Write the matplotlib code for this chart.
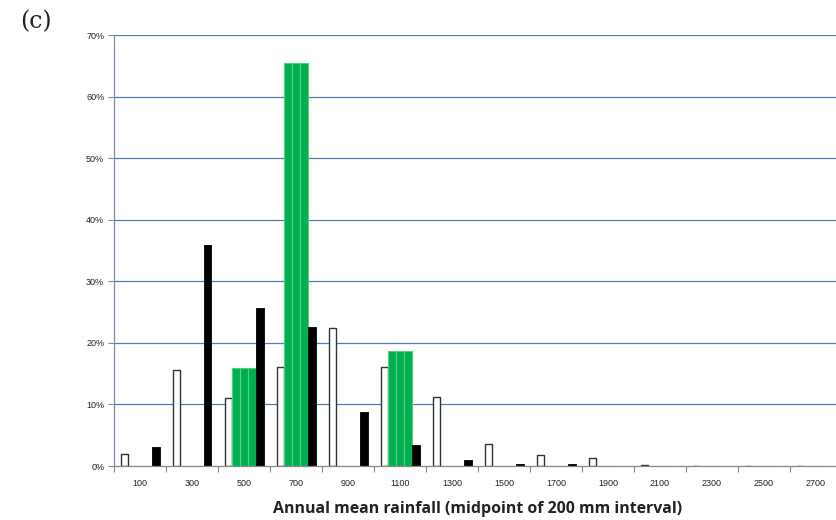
import matplotlib
matplotlib.use("Agg")
import matplotlib.pyplot as plt
import numpy as np

categories = ["100", "300", "500", "700", "900", "1100", "1300", "1500",
              "1700", "1900", "2100", "2300", "2500", "2700"]
white_vals = [2.0, 15.6, 11.0, 16.0, 22.4, 16.0, 11.2, 3.5, 1.8, 1.25, 0.12, 0.08, 0.08, 0.08]
green_vals = [0, 0, 15.9, 65.4, 0, 18.7, 0, 0, 0, 0, 0, 0, 0, 0]
black_vals = [3.1, 35.9, 25.7, 22.5, 8.7, 3.4, 1.0, 0.4, 0.3, 0.08, 0.08, 0, 0, 0]
y_ticks = [0, 10, 20, 30, 40, 50, 60, 70]
xlabel = "Annual mean rainfall (midpoint of 200 mm interval)"

W, H = 836, 520
fig = plt.figure(figsize=(W / 100, H / 100), dpi=100)
ax = fig.add_axes([114 / W, 1 - 466 / H, (842 - 114) / W, (466 - 35) / H])

x = np.arange(len(categories))
w = 0.15
grid_col = "#4a7ebb"

ax.set_axisbelow(True)
for t in y_ticks[1:]:
    ax.axhline(t, color=grid_col, lw=0.9, zorder=0)

ax.bar(x - 2 * w, white_vals, width=w, color="white", edgecolor="#333333", lw=1.0, zorder=2)
for off in (-w, 0, w):
    ax.bar(x + off, green_vals, width=w, color="#00b050", edgecolor="#4fd37f", lw=0.8, zorder=2)
ax.bar(x + 2 * w, black_vals, width=w, color="black", edgecolor="black", lw=0.6, zorder=2)

ax.set_xlim(-0.5, len(categories) - 0.5)
ax.set_ylim(0, 70)
ax.set_yticks(y_ticks)
ax.set_yticklabels([f"{t}%" for t in y_ticks], fontsize=6.5, family="Liberation Sans", color="#222222")
ax.set_xticks(x)
ax.set_xticklabels(categories, fontsize=6.5, family="Liberation Sans", color="#222222")
ax.set_xticks(np.arange(len(categories) + 1) - 0.5, minor=True)
ax.tick_params(axis="x", which="major", length=0, pad=9)
ax.tick_params(axis="x", which="minor", length=4, color="#888888", width=0.8)
ax.tick_params(axis="y", length=4, color="#888888", width=0.8, pad=3)

for s in ("top", "right"):
    ax.spines[s].set_visible(False)
ax.spines["left"].set_color("#7f8fa6")
ax.spines["bottom"].set_color("#888888")
ax.spines["left"].set_linewidth(0.9)
ax.spines["bottom"].set_linewidth(0.9)

fig.text(478 / W, 1 - 509 / H, xlabel, ha="center", va="center",
         fontsize=11.4, fontweight="bold", family="Open Sans", color="#222222")
fig.text(20 / W, 1 - 22 / H, "(c)", ha="left", va="center", fontsize=17,
         family="DejaVu Serif", color="#222222")

fig.savefig("out.png", dpi=100)
